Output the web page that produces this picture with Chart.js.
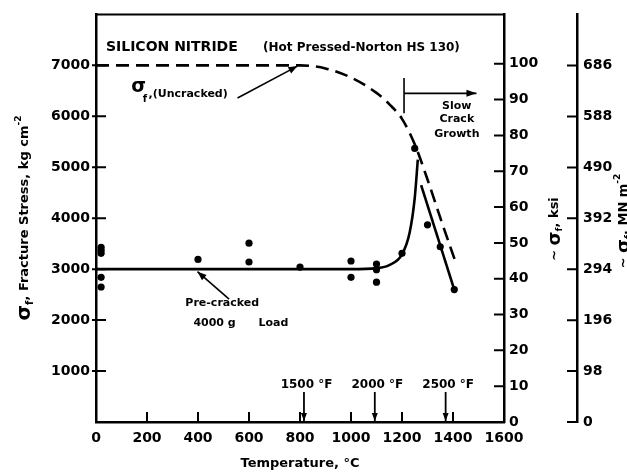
<!DOCTYPE html>
<html>
<head>
<meta charset="utf-8">
<script src="https://cdn.jsdelivr.net/npm/chart.js@4.4.1/dist/chart.umd.min.js"></script>
<style>
  html, body { margin: 0; padding: 0; background: #fff; }
</style>
</head>
<body>
<canvas id="chart" width="627" height="472"></canvas>
<script>
// uncracked strength (dashed curve)
const uncrackedTemp   = [0, 200, 400, 600, 800, 900, 1000, 1100, 1150, 1200, 1250, 1300, 1350, 1410]
const uncrackedStress = [7000, 7000, 7000, 7000, 7000, 6940, 6760, 6460, 6240, 5950, 5450, 4760, 4010, 3140]

// pre-cracked, 4000 g load (solid curve, rising part then falling part)
const crackedTemp   = [0, 200, 400, 600, 800, 1000, 1100, 1150, 1200, 1230, 1250, 1262]
const crackedStress = [3000, 3000, 3000, 3000, 3000, 3000, 3020, 3080, 3290, 3720, 4400, 5150]
const fallTemp   = [1275, 1405]
const fallStress = [4650, 2600]

// measured points
const testTemp   = [20, 20, 20, 20, 20, 400, 600, 600, 800, 1000, 1000, 1100, 1100, 1100, 1200, 1250, 1300, 1350, 1405]
const testStress = [3430, 3370, 3310, 2840, 2650, 3190, 3510, 3140, 3040, 3160, 2840, 3100, 2990, 2745, 3310, 5370, 3870, 3440, 2600]

// axes
const tempTicks   = [0, 200, 400, 600, 800, 1000, 1200, 1400, 1600]
const stressTicks = [1000, 2000, 3000, 4000, 5000, 6000, 7000]
const ksiTicks    = [0, 10, 20, 30, 40, 50, 60, 70, 80, 90, 100]
const mnTicks     = [0, 98, 196, 294, 392, 490, 588, 686]
const fahrenheitMarks = [1500, 2000, 2500]

const FONT = "'DejaVu Sans', sans-serif"
const KG_PER_KSI = 70.307
const MN_PER_KG = 0.0980665

const pts = (xs, ys) => xs.map((x, i) => ({ x: x, y: ys[i] }))
const fixTicks = list => scale => { scale.ticks = list.map(v => ({ value: v })) }
const plain = v => String(v)

function arrow(ctx, x1, y1, x2, y2, len, half) {
    ctx.beginPath()
    ctx.moveTo(x1, y1)
    ctx.lineTo(x2, y2)
    ctx.stroke()
    var a = Math.atan2(y2 - y1, x2 - x1)
    ctx.beginPath()
    ctx.moveTo(x2, y2)
    ctx.lineTo(x2 - len * Math.cos(a) + half * Math.sin(a), y2 - len * Math.sin(a) - half * Math.cos(a))
    ctx.lineTo(x2 - len * Math.cos(a) - half * Math.sin(a), y2 - len * Math.sin(a) + half * Math.cos(a))
    ctx.closePath()
    ctx.fill()
}

// draws a run of text pieces [text, size, dy], centred on 0,0
function richText(ctx, parts) {
    var w = 0
    parts.forEach(p => { ctx.font = 'bold ' + p[1] + 'px ' + FONT; w += ctx.measureText(p[0]).width })
    var cx = -w / 2
    ctx.textAlign = 'left'
    ctx.textBaseline = 'middle'
    parts.forEach(p => {
        ctx.font = 'bold ' + p[1] + 'px ' + FONT
        ctx.fillText(p[0], cx, p[2] || 0)
        cx += ctx.measureText(p[0]).width
    })
}

const extras = {
    id: 'extras',
    afterDraw(chart) {
        const { ctx, chartArea: a, scales } = chart
        const x = scales.x, y = scales.y, k = scales.ksi, m = scales.mn
        const X = v => x.getPixelForValue(v), Y = v => y.getPixelForValue(v)
        ctx.save()
        ctx.strokeStyle = '#000'
        ctx.fillStyle = '#000'
        ctx.lineWidth = 2

        // top frame
        ctx.beginPath()
        ctx.moveTo(a.left - 1, a.top)
        ctx.lineTo(a.right + 1, a.top)
        ctx.stroke()

        // inward tick marks
        ctx.beginPath()
        x.ticks.forEach(t => {
            if (t.value <= 0 || t.value >= 1600) return
            ctx.moveTo(X(t.value), a.bottom)
            ctx.lineTo(X(t.value), a.bottom - 10)
        })
        y.ticks.forEach(t => {
            ctx.moveTo(a.left - 4, Y(t.value))
            ctx.lineTo(a.left + 10, Y(t.value))
        })
        k.ticks.forEach(t => {
            if (t.value === 0) return
            ctx.moveTo(k.left - 10, k.getPixelForValue(t.value))
            ctx.lineTo(k.left, k.getPixelForValue(t.value))
        })
        m.ticks.forEach(t => {
            ctx.moveTo(m.left - 10, m.getPixelForValue(t.value))
            ctx.lineTo(m.left, m.getPixelForValue(t.value))
        })
        ctx.stroke()

        // titles
        ctx.textAlign = 'left'
        ctx.textBaseline = 'middle'
        ctx.font = 'bold 14px ' + FONT
        ctx.fillText('SILICON NITRIDE', X(39), Y(7350))
        ctx.font = 'bold 12px ' + FONT
        ctx.fillText('(Hot Pressed-Norton HS 130)', X(655), Y(7350))

        // uncracked label
        ctx.font = 'bold 19px ' + FONT
        ctx.fillText('σ', X(138), Y(6570))
        ctx.font = 'bold 10px ' + FONT
        ctx.fillText('f', X(183), Y(6330))
        ctx.font = 'bold 11px ' + FONT
        ctx.fillText(',(Uncracked)', X(206), Y(6430))
        ctx.lineWidth = 1.6
        arrow(ctx, X(555), Y(6360), X(790), Y(6985), 9, 3.5)

        // pre-cracked label
        ctx.textAlign = 'center'
        ctx.fillText('Pre-cracked', X(495), Y(2330))
        ctx.textAlign = 'left'
        ctx.fillText('4000 g', X(382), Y(1940))
        ctx.fillText('Load', X(637), Y(1940))
        arrow(ctx, X(522), Y(2410), X(398), Y(2950), 9, 3.5)

        // slow crack growth
        ctx.textAlign = 'center'
        ctx.fillText('Slow', X(1415), Y(6200))
        ctx.fillText('Crack', X(1415), Y(5945))
        ctx.fillText('Growth', X(1415), Y(5650))
        ctx.lineWidth = 1.6
        ctx.beginPath()
        ctx.moveTo(X(1208), Y(6750))
        ctx.lineTo(X(1208), Y(6060))
        ctx.stroke()
        arrow(ctx, X(1208), Y(6450), X(1492), Y(6450), 10, 3.5)

        // fahrenheit markers
        ctx.font = 'bold 12px ' + FONT
        fahrenheitMarks.forEach(f => {
            var c = (f - 32) * 5 / 9
            ctx.fillText(f + ' °F', X(c + 10), Y(720))
            ctx.lineWidth = 1.8
            arrow(ctx, X(c), Y(590), X(c), Y(20), 8, 3)
        })

        // sigma axis titles, read bottom to top
        ctx.fillStyle = '#000'
        ctx.save()
        ctx.translate(25, 218)
        ctx.rotate(-Math.PI / 2)
        richText(ctx, [['σ', 20, 0], ['f', 10, 5], [', Fracture Stress, kg cm', 13, 0], ['-2', 9, -6]])
        ctx.restore()

        ctx.save()
        ctx.translate(555, 229)
        ctx.rotate(-Math.PI / 2)
        richText(ctx, [['~ ', 13, 0], ['σ', 18, 0], ['f', 9, 5], [', ksi', 13, 0]])
        ctx.restore()

        ctx.save()
        ctx.translate(624, 221)
        ctx.rotate(-Math.PI / 2)
        richText(ctx, [['~ ', 13, 0], ['σ', 18, 0], ['f', 9, 5], [', MN m', 13, 0], ['-2', 9, -6]])
        ctx.restore()

        ctx.restore()
    }
}

const tickFont = { family: FONT, size: 14, weight: 'bold' }

var chart = new Chart(document.getElementById('chart').getContext('2d'), {
    data: {
        datasets: [{
            type: 'line',
            label: 'Uncracked',
            data: pts(uncrackedTemp, uncrackedStress),
            borderColor: '#000',
            borderWidth: 2.6,
            borderDash: [13, 7],
            pointRadius: 0,
            fill: false,
            cubicInterpolationMode: 'monotone'
        }, {
            type: 'line',
            label: 'Pre-cracked',
            data: pts(crackedTemp, crackedStress),
            borderColor: '#000',
            borderWidth: 2.6,
            pointRadius: 0,
            fill: false,
            cubicInterpolationMode: 'monotone'
        }, {
            type: 'line',
            label: 'Pre-cracked falling',
            data: pts(fallTemp, fallStress),
            borderColor: '#000',
            borderWidth: 2.6,
            pointRadius: 0,
            fill: false
        }, {
            type: 'scatter',
            label: 'Tests',
            data: pts(testTemp, testStress),
            backgroundColor: '#000',
            borderWidth: 0,
            pointRadius: 3.6
        }]
    },
    options: {
        responsive: false,
        animation: false,
        layout: { padding: { top: 12, left: 0, right: 0, bottom: 0 } },
        plugins: { legend: { display: false }, tooltip: { enabled: false } },
        scales: {
            x: {
                type: 'linear',
                position: 'bottom',
                min: 0,
                max: 1600,
                afterBuildTicks: fixTicks(tempTicks),
                afterFit: s => { s.height = 50 },
                grid: { display: false, drawTicks: false },
                border: { display: true, color: '#000', width: 2.5 },
                ticks: { color: '#000', font: tickFont, padding: 8, maxRotation: 0, autoSkip: false, callback: plain },
                title: {
                    display: true,
                    text: 'Temperature, °C',
                    color: '#000',
                    font: { family: FONT, size: 13, weight: 'bold' },
                    padding: { top: 0, bottom: 1 }
                }
            },
            y: {
                type: 'linear',
                position: 'left',
                min: 0,
                max: 8000,
                afterBuildTicks: fixTicks(stressTicks),
                afterFit: s => { s.width = 96 },
                grid: { display: false, drawTicks: false },
                border: { display: true, color: '#000', width: 2.5 },
                ticks: { color: '#000', font: tickFont, padding: 6, autoSkip: false, callback: plain }
            },
            ksi: {
                type: 'linear',
                position: 'right',
                min: 0,
                max: 8000 / KG_PER_KSI,
                afterBuildTicks: fixTicks(ksiTicks),
                afterFit: s => { s.width = 73 },
                grid: { display: false, drawTicks: false },
                border: { display: true, color: '#000', width: 2.5 },
                ticks: { color: '#000', font: tickFont, padding: 5, autoSkip: false, callback: plain }
            },
            mn: {
                type: 'linear',
                position: 'right',
                min: 0,
                max: 8000 * MN_PER_KG,
                afterBuildTicks: fixTicks(mnTicks),
                afterFit: s => { s.width = 50 },
                grid: { display: false, drawTicks: false },
                border: { display: true, color: '#000', width: 2.5 },
                ticks: { color: '#000', font: tickFont, padding: 6, autoSkip: false, callback: plain }
            }
        }
    },
    plugins: [extras]
})
</script>
</body>
</html>
